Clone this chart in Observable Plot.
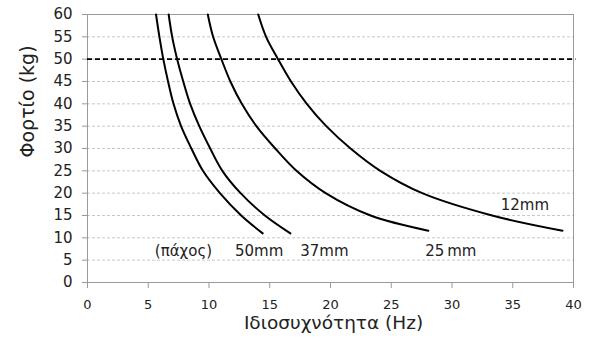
<!DOCTYPE html>
<html><head><meta charset="utf-8">
<script src="https://cdn.jsdelivr.net/npm/d3@7"></script>
<script src="https://cdn.jsdelivr.net/npm/@observablehq/plot@0.6"></script>
<style>
body{margin:0;background:#fff}
svg{font-family:"DejaVu Sans",sans-serif}
</style></head><body><div id="chart"></div>
<script>
const xTicks=[0,5,10,15,20,25,30,35,40];
const yTicks=[0,5,10,15,20,25,30,35,40,45,50,55,60];
const limitLoad=[50];
// frequency (Hz) / load (kg) for each thickness
const freq50=[5.64,5.92,6.24,6.63,7.08,7.7,8.55,9.5,10.9,12.65,14.42];
const load50=[60,55,50,45,40,35,30,25,20,15,11];
const freq37=[6.68,6.97,7.38,7.88,8.45,9.2,10.1,11.1,12.6,14.6,16.7];
const load37=[60,55,50,45,40,35,30,25,20,15,11];
const freq25=[9.9,10.34,11.02,11.76,12.7,13.9,15.45,17.2,19.6,23.3,28.05];
const load25=[60,55,50,45,40,35,30,25,20,15,11.6];
const freq12=[14.05,14.7,15.68,16.75,18.05,19.65,21.65,24.1,27.55,33.3,39.1];
const load12=[60,55,50,45,40,35,30,25,20,15,11.6];
const labelText=["(πάχος)","50mm","37mm","25\u2009mm","12mm"];
const labelFreq=[7.9,14.13,19.5,29.9,36.0];
const labelLoad=[6.9,6.9,6.9,6.9,17.2];

const series=[["50",freq50,load50],["37",freq37,load37],["25",freq25,load25],["12",freq12,load12]];
const rows=series.flatMap(([s,fs,ls])=>fs.map((f,i)=>({s,f,l:ls[i]})));
const labels=labelText.map((t,i)=>({t,x:labelFreq[i],y:labelLoad[i]}));

const chart=Plot.plot({
  width:594,height:343,
  marginLeft:87,marginRight:21,marginTop:14,marginBottom:61,
  x:{domain:[0,40]},
  y:{domain:[0,60]},
  marks:[
    Plot.ruleY(yTicks.filter(d=>d>0&&d<60),{stroke:"#c8c8c8",strokeDasharray:"3,2",strokeWidth:1}),
    Plot.frame({stroke:"#9a9a9a"}),
    Plot.ruleY(limitLoad,{stroke:"#000",strokeWidth:1.6,strokeDasharray:"5,3",x1:0,x2:40.2}),
    Plot.line(rows,{x:"f",y:"l",z:"s",curve:"catmull-rom",stroke:"#000",strokeWidth:2}),
    Plot.text(labels,{x:"x",y:"y",text:"t",fontSize:15,fill:"#222"}),
    Plot.axisX({ticks:xTicks,tickSize:6,tickPadding:11,stroke:"#9a9a9a",fill:"#222",fontSize:13,label:null}),
    Plot.axisY({ticks:yTicks,tickSize:5,tickPadding:10,stroke:"#9a9a9a",fill:"#222",fontSize:15,label:null}),
    Plot.text(["Ιδιοσυχνότητα (Hz)"],{frameAnchor:"bottom",dy:46,dx:3,fontSize:18.5,fill:"#222"}),
    Plot.text(["Φορτίο (kg)"],{frameAnchor:"left",rotate:-90,dx:-60,dy:9,fontSize:19,fill:"#222"})
  ]
});
document.getElementById("chart").append(chart);
</script></body></html>
